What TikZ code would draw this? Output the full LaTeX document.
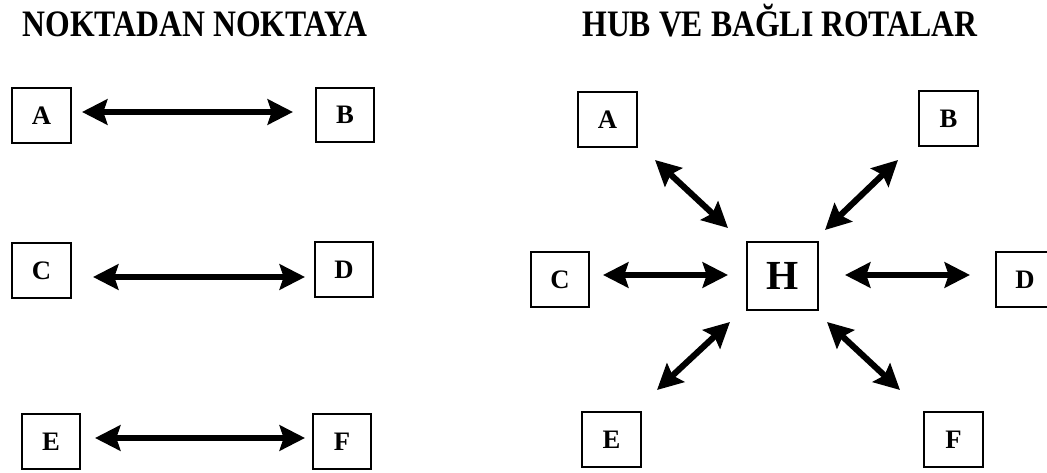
\documentclass[tikz,border=0pt]{standalone}
\usepackage{fontspec}
\usepackage{graphicx}
\setmainfont{Liberation Serif}
\usetikzlibrary{arrows.meta}
\begin{document}
\begin{tikzpicture}[x=0.75pt,y=-0.75pt,
  box/.style={draw, line width=1.7pt, minimum width=44pt, minimum height=41pt,
    inner sep=0pt, font=\fontsize{20}{20}\selectfont\bfseries},
  hub/.style={box, minimum width=53pt, minimum height=51pt,
    font=\fontsize{31}{31}\selectfont\bfseries},
  link/.style={line width=4.6pt,
    {Stealth[length=19pt,width=19pt,inset=3pt]}-{Stealth[length=19pt,width=19pt,inset=3pt]}},
  heading/.style={anchor=base, inner sep=0pt, font=\fontsize{28}{28}\selectfont\bfseries}]
\useasboundingbox (0,0) rectangle (1047,473);

% headings
\node[heading] (t1) at (195,37) {\scalebox{0.85}[1]{NOKTADAN NOKTAYA}};
\node[heading] (t2) at (780,37) {\scalebox{0.85}[1]{HUB VE BAĞLI ROTALAR}};

% point-to-point pairs
\node[box] (A1) at (41.5,115.5) {A};
\node[box] (B1) at (345,115) {B};
\node[box] (C1) at (41.5,270.5) {C};
\node[box] (D1) at (344,269.5) {D};
\node[box] (E1) at (51,441.5) {E};
\node[box] (F1) at (342,441.5) {F};

\draw[link] ([shift={(40.5,-3.5)}]A1.center) -- ([shift={(-52,-3)}]B1.center);
\draw[link] ([shift={(51.5,6.5)}]C1.center) -- ([shift={(-39,7.5)}]D1.center);
\draw[link] ([shift={(44,-3.5)}]E1.center) -- ([shift={(-37,-3.5)}]F1.center);

% hub and spokes
\node[hub] (H) at (782.5,276) {H};
\node[box] (A2) at (607.5,119.5) {A};
\node[box] (B2) at (948.5,118.5) {B};
\node[box] (C2) at (560,279.5) {C};
\node[box] (D2) at (1025,279.5) {D};
\node[box] (E2) at (611.5,439.5) {E};
\node[box] (F2) at (953.5,439.5) {F};

\draw[link] ([shift={(-54.5,-48)}]H.center) -- ([shift={(47.5,40.5)}]A2.center);
\draw[link] ([shift={(42.5,-46)}]H.center) -- ([shift={(-50.5,41.5)}]B2.center);
\draw[link] ([shift={(43,-4.5)}]C2.center) -- ([shift={(-54.5,-1)}]H.center);
\draw[link] ([shift={(62.5,-1)}]H.center) -- ([shift={(-55,-4.5)}]D2.center);
\draw[link] ([shift={(-52.5,46)}]H.center) -- ([shift={(45.5,-49.5)}]E2.center);
\draw[link] ([shift={(44.5,46)}]H.center) -- ([shift={(-53.5,-49.5)}]F2.center);
\end{tikzpicture}
\end{document}
